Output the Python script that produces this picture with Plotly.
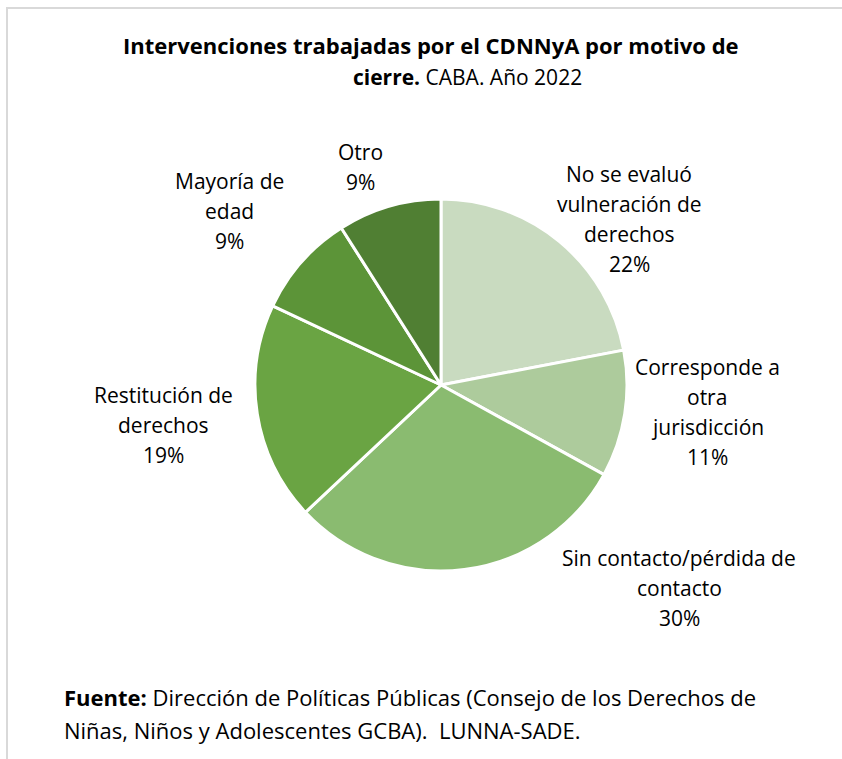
import plotly.graph_objects as go

W, H = 842, 759

categories = ["No se evaluó vulneración de derechos", "Corresponde a otra jurisdicción",
              "Sin contacto/pérdida de contacto", "Restitución de derechos",
              "Mayoría de edad", "Otro"]
values = [22, 11, 30, 19, 9, 9]
colors = ["#C9DBC0", "#ADCB9C", "#8ABB70", "#6AA443", "#5C9438", "#507F33"]

label_lines = [
    ["No se evaluó", "vulneración de", "derechos"],
    ["Corresponde a", "otra", "jurisdicción"],
    ["Sin contacto/pérdida de", "contacto"],
    ["Restitución de", "derechos"],
    ["Mayoría de", "edad"],
    ["Otro"],
]
# label anchor (x center, y of first line) in pixels
label_pos = [(629, 174), (707, 367), (679, 558), (163, 395), (229, 181), (360, 152)]
LINE_STEP = 30

title_line1 = "Intervenciones trabajadas por el CDNNyA por motivo de"
title_line2_bold = "cierre."
title_line2 = " CABA. Año 2022"
source_bold = "Fuente:"
source_line1 = " Dirección de Políticas Públicas (Consejo de los Derechos de"
source_line2 = "Niñas, Niños y Adolescentes GCBA).  LUNNA-SADE."

FONT = "Open Sans, Lato, sans-serif"


def px(x):
    return x / W


def py(y):
    return 1 - y / H


cx, cy, r = 441, 385, 186

fig = go.Figure(go.Pie(
    labels=categories, values=values, sort=False, direction="clockwise", rotation=0,
    marker=dict(colors=colors, line=dict(color="white", width=3)),
    textinfo="none", hoverinfo="label+percent", showlegend=False,
    domain=dict(x=[px(cx - r), px(cx + r)], y=[py(cy + r), py(cy - r)]),
))

ann = []
for lines, val, (x0, y0) in zip(label_lines, values, label_pos):
    all_lines = lines + [f"{val}%"]
    for i, t in enumerate(all_lines):
        ann.append(dict(x=px(x0), y=py(y0 + i * LINE_STEP), xref="paper", yref="paper",
                        text=t, showarrow=False, xanchor="center", yanchor="middle",
                        font=dict(family=FONT, size=21, color="#000000")))

ann.append(dict(x=px(431), y=py(45), xref="paper", yref="paper", text=f"<b>{title_line1}</b>",
                showarrow=False, xanchor="center", yanchor="middle",
                font=dict(family=FONT, size=22, color="#000000")))
ann.append(dict(x=px(468), y=py(77), xref="paper", yref="paper",
                text=f"<b>{title_line2_bold}</b>{title_line2}",
                showarrow=False, xanchor="center", yanchor="middle",
                font=dict(family=FONT, size=21, color="#000000")))
ann.append(dict(x=px(62), y=py(697), xref="paper", yref="paper",
                text=f"<b>{source_bold}</b>{source_line1}",
                showarrow=False, xanchor="left", yanchor="middle",
                font=dict(family=FONT, size=22, color="#000000")))
ann.append(dict(x=px(62), y=py(730), xref="paper", yref="paper",
                text=source_line2,
                showarrow=False, xanchor="left", yanchor="middle",
                font=dict(family=FONT, size=22, color="#000000")))

fig.update_layout(
    width=W, height=H, margin=dict(l=0, r=0, t=0, b=0),
    paper_bgcolor="white", plot_bgcolor="white",
    annotations=ann,
    shapes=[dict(type="rect", xref="paper", yref="paper",
                 x0=px(7), y0=py(H + 20), x1=px(W + 20), y1=py(8),
                 line=dict(color="#D9D9D9", width=2))],
)

fig.write_html("out.html", config={"displayModeBar": False},
               post_script="document.body.style.margin='0';")
